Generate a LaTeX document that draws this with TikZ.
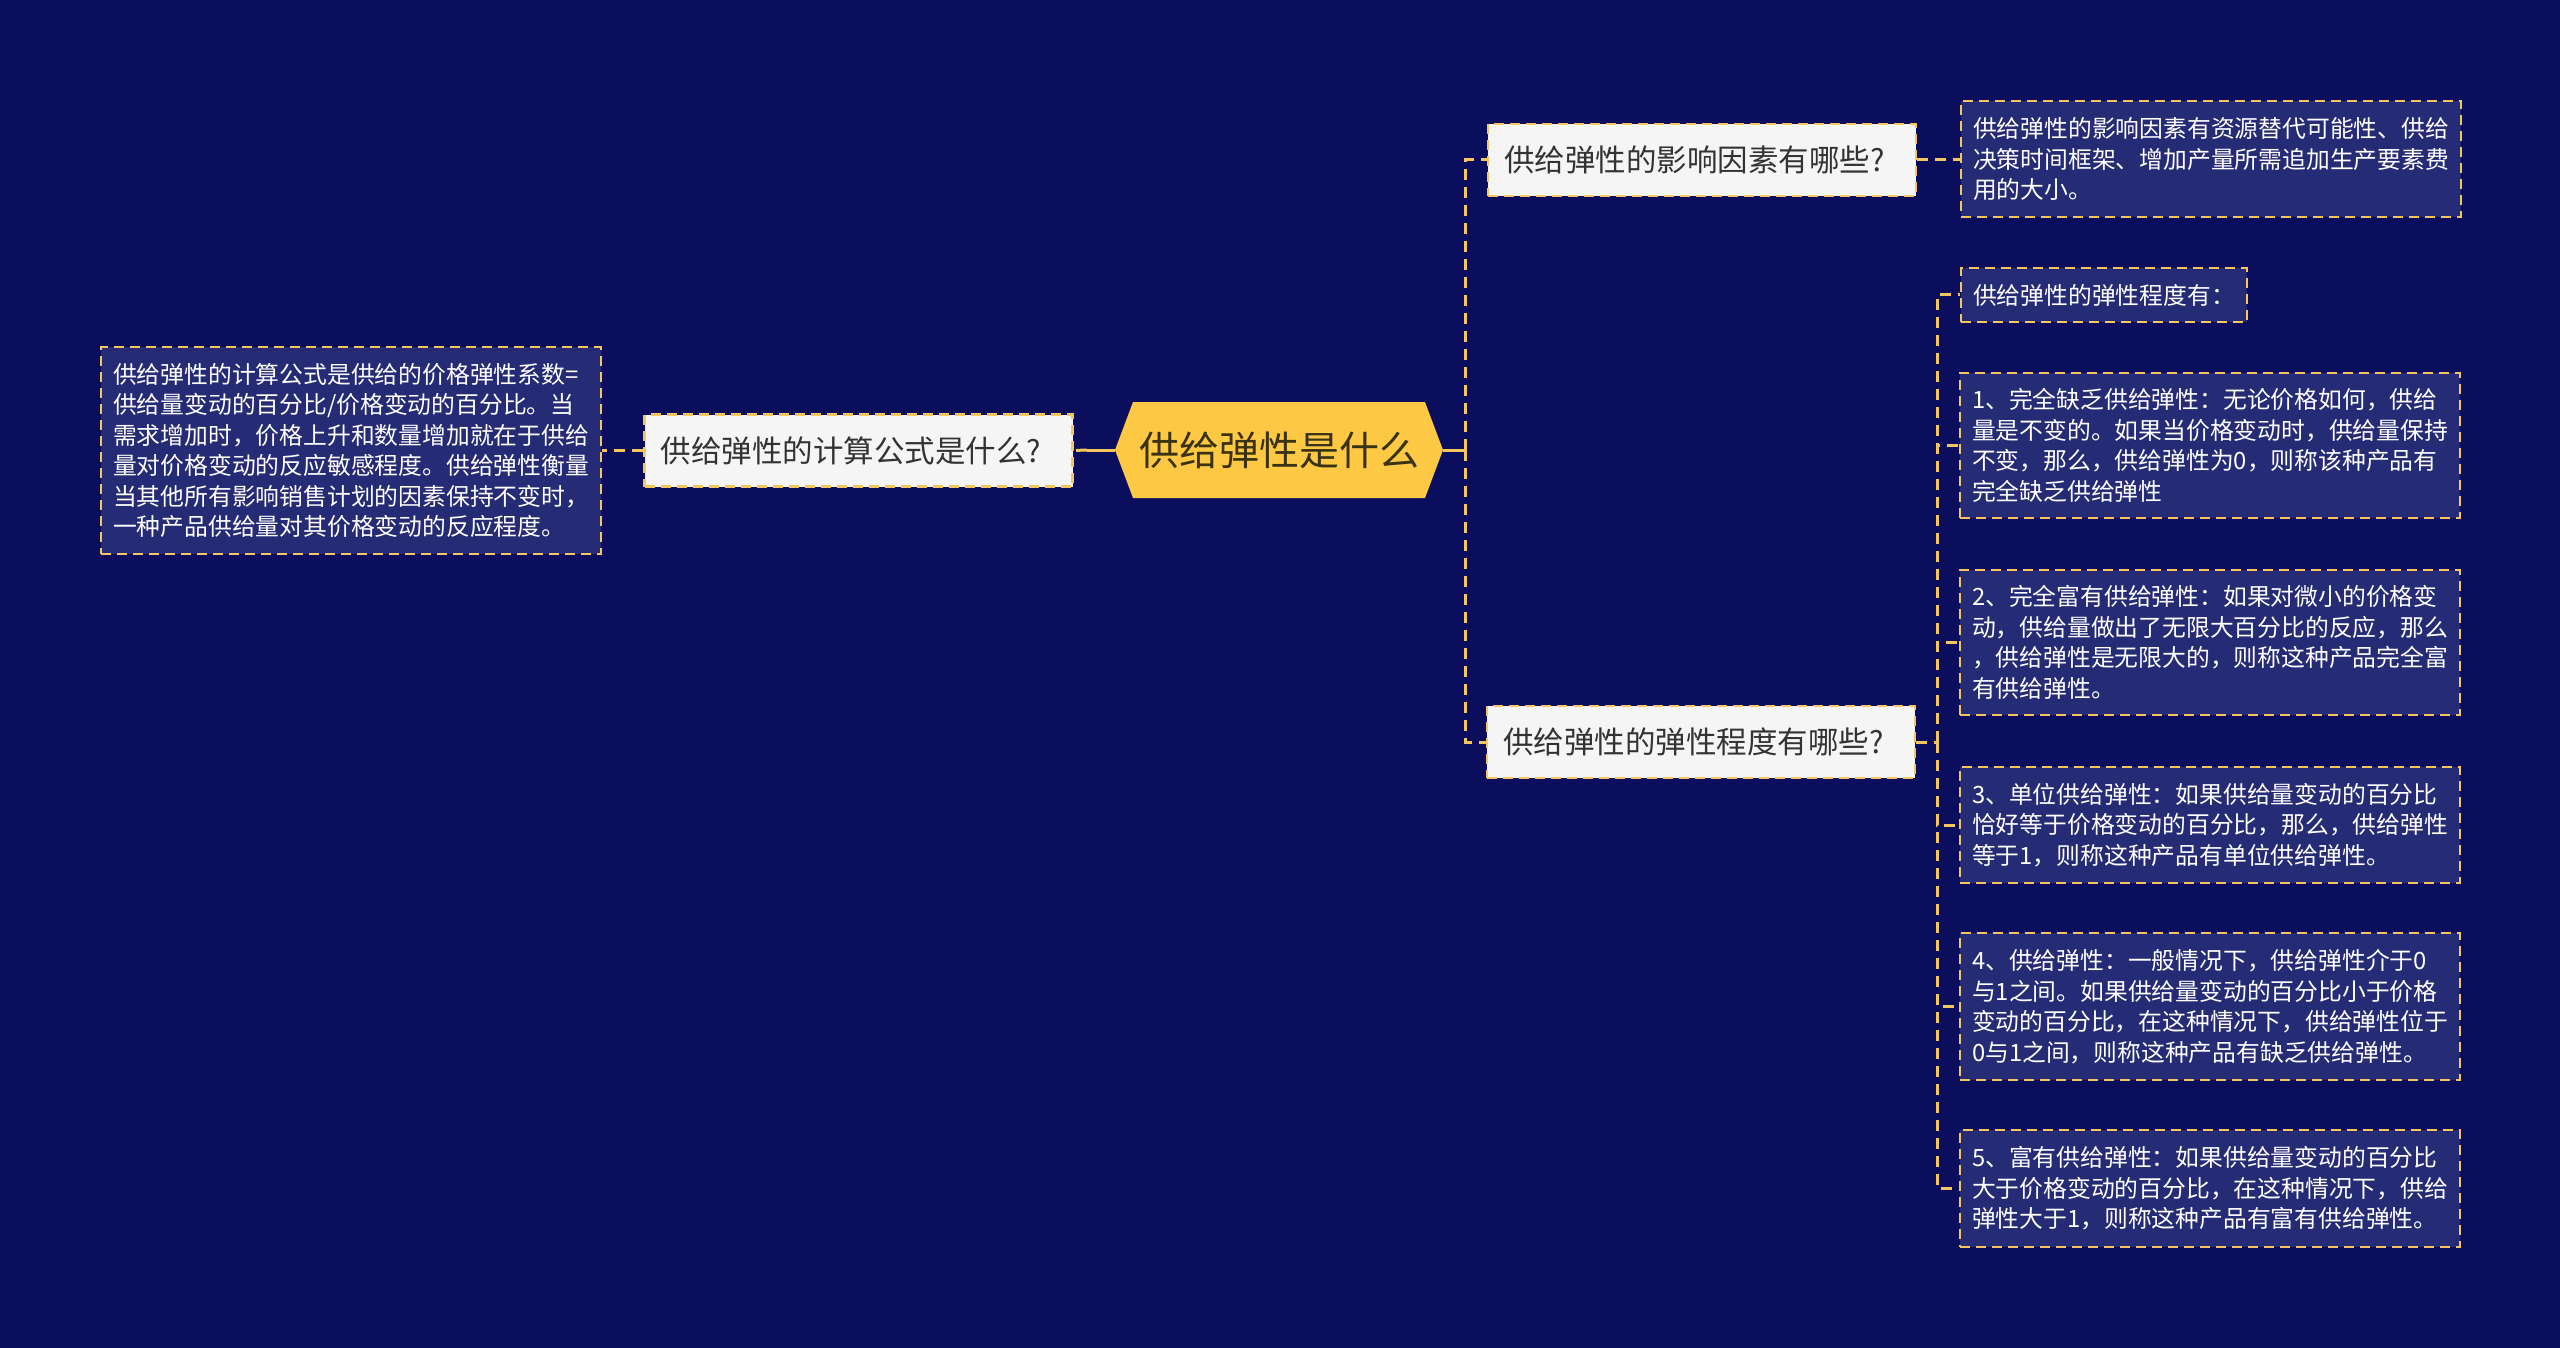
\documentclass[tikz,border=0pt]{standalone}
\usepackage{fontspec}
\setmainfont{Noto Sans CJK SC}
\definecolor{bg}{HTML}{0A0E5C}
\definecolor{ylw}{HTML}{F6C65E}
\definecolor{hexfill}{HTML}{FDC844}
\definecolor{hextext}{HTML}{3A3214}
\definecolor{qfill}{HTML}{F5F5F5}
\definecolor{qtext}{HTML}{333333}
\definecolor{tfill}{HTML}{262B76}
\begin{document}
\begin{tikzpicture}[x=1pt,y=-1pt,
  conn/.style={draw=ylw,line width=3pt,dash pattern=on 11pt off 7pt},
  solidconn/.style={draw=ylw,line width=3pt},
  qbox/.style={draw=ylw,fill=qfill,line width=2.2pt,dash pattern=on 10pt off 6pt,text=qtext,
    font=\fontsize{30.5}{36}\selectfont,minimum width=428pt,minimum height=72pt,
    inner xsep=16pt,inner ysep=0pt,text width=396pt,align=left},
  tbox/.style={draw=ylw,fill=tfill,line width=2.2pt,dash pattern=on 10pt off 6pt,text=white,
    font=\fontsize{23.8}{30.5}\selectfont,text width=476pt,inner xsep=12pt,inner ysep=0pt,align=left},
]
\fill[bg] (0,0) rectangle (2560,1348);
\useasboundingbox (0,0) rectangle (2560,1348);

% central hexagon
\fill[hexfill] (1115,450) -- (1133,402) -- (1425,402) -- (1443,450) -- (1425,498) -- (1133,498) -- cycle;
\node[minimum width=328pt,minimum height=96pt,inner sep=0pt,text=hextext,font=\fontsize{40}{46}\selectfont] (hex) at (1279,450) {供给弹性是什么};

% question nodes
\node[qbox] (q0) at (858.5,450.5) {供给弹性的计算公式是什么?};
\node[qbox] (q1) at (1702,160) {供给弹性的影响因素有哪些?};
\node[qbox] (q2) at (1701,742) {供给弹性的弹性程度有哪些?};

% text nodes
\node[tbox,minimum height=207pt] (l0) at (351,450.5) {供给弹性的计算公式是供给的价格弹性系数=\\供给量变动的百分比/价格变动的百分比。当\\需求增加时，价格上升和数量增加就在于供给\\量对价格变动的反应敏感程度。供给弹性衡量\\当其他所有影响销售计划的因素保持不变时，\\一种产品供给量对其价格变动的反应程度。};
\node[tbox,minimum height=116pt] (t1) at (2211,159) {供给弹性的影响因素有资源替代可能性、供给\\决策时间框架、增加产量所需追加生产要素费\\用的大小。};
\node[tbox,text width=262pt,minimum height=54pt] (te) at (2104,295) {供给弹性的弹性程度有：};
\node[tbox,minimum height=145pt] (b1) at (2210,445.5) {1、完全缺乏供给弹性：无论价格如何，供给\\量是不变的。如果当价格变动时，供给量保持\\不变，那么，供给弹性为0，则称该种产品有\\完全缺乏供给弹性};
\node[tbox,minimum height=145pt] (b2) at (2210,642.5) {2、完全富有供给弹性：如果对微小的价格变\\动，供给量做出了无限大百分比的反应，那么\\，供给弹性是无限大的，则称这种产品完全富\\有供给弹性。};
\node[tbox,minimum height=116pt] (b3) at (2210,825) {3、单位供给弹性：如果供给量变动的百分比\\恰好等于价格变动的百分比，那么，供给弹性\\等于1，则称这种产品有单位供给弹性。};
\node[tbox,minimum height=147pt] (b4) at (2210,1006.5) {4、供给弹性：一般情况下，供给弹性介于0\\与1之间。如果供给量变动的百分比小于价格\\变动的百分比，在这种情况下，供给弹性位于\\0与1之间，则称这种产品有缺乏供给弹性。};
\node[tbox,minimum height=117pt] (b5) at (2210,1188.5) {5、富有供给弹性：如果供给量变动的百分比\\大于价格变动的百分比，在这种情况下，供给\\弹性大于1，则称这种产品有富有供给弹性。};

% hubs
\coordinate (hubL) at (1087,450);
\coordinate (hubR) at (1465,450);
\coordinate (hubB) at (1937,742);

% connectors
\draw[solidconn] (hex.west) -- (hubL);
\draw[conn] (hubL) -- (q0.east);
\draw[conn] (q0.west) -- (l0.east);
\draw[solidconn] (hex.east) -- (hubR);
\draw[conn] (hubR) |- (q1.west);
\draw[conn] (hubR) |- (q2.west);
\draw[conn] (q1.east) -- (t1.west |- q1.east);
\draw[conn] (q2.east) -- (hubB);
\draw[conn] (hubB) |- (te.west);
\draw[conn] (hubB) |- (b1.west);
\draw[conn] (hubB) |- (b2.west);
\draw[conn] (hubB) |- (b3.west);
\draw[conn] (hubB) |- (b4.west);
\draw[conn] (hubB) |- (b5.west);
\end{tikzpicture}
\end{document}
